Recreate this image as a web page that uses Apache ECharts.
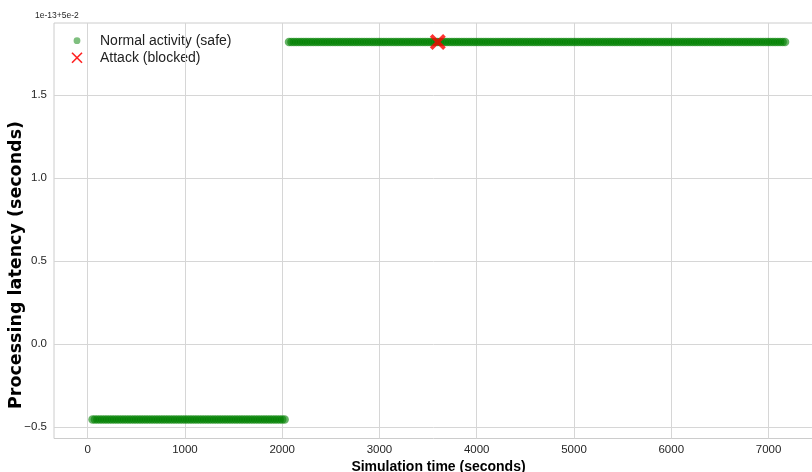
<!DOCTYPE html>
<html>
<head>
<meta charset="utf-8">
<script src="https://cdn.jsdelivr.net/npm/echarts@6/dist/echarts.min.js"></script>
<style>
html,body{margin:0;padding:0;background:#fff;}
#c{width:812px;height:472px;}
</style>
</head>
<body>
<div id="c"></div>
<script>
// ---- data ----
const normalLowTimes = [50,75,100,125,150,175,200,225,250,275,300,325,350,375,400,425,450,475,500,525,550,575,600,625,650,675,700,725,750,775,800,825,850,875,900,925,950,975,1000,1025,1050,1075,1100,1125,1150,1175,1200,1225,1250,1275,1300,1325,1350,1375,1400,1425,1450,1475,1500,1525,1550,1575,1600,1625,1650,1675,1700,1725,1750,1775,1800,1825,1850,1875,1900,1925,1950,1975,2000,2025];
const normalLowLatency = -0.455;
const normalHighTimes = [2070,2095,2120,2145,2170,2195,2220,2245,2270,2295,2320,2345,2370,2395,2420,2445,2470,2495,2520,2545,2570,2595,2620,2645,2670,2695,2720,2745,2770,2795,2820,2845,2870,2895,2920,2945,2970,2995,3020,3045,3070,3095,3120,3145,3170,3195,3220,3245,3270,3295,3320,3345,3370,3395,3420,3445,3470,3495,3520,3545,3570,3595,3620,3645,3670,3695,3720,3745,3770,3795,3820,3845,3870,3895,3920,3945,3970,3995,4020,4045,4070,4095,4120,4145,4170,4195,4220,4245,4270,4295,4320,4345,4370,4395,4420,4445,4470,4495,4520,4545,4570,4595,4620,4645,4670,4695,4720,4745,4770,4795,4820,4845,4870,4895,4920,4945,4970,4995,5020,5045,5070,5095,5120,5145,5170,5195,5220,5245,5270,5295,5320,5345,5370,5395,5420,5445,5470,5495,5520,5545,5570,5595,5620,5645,5670,5695,5720,5745,5770,5795,5820,5845,5870,5895,5920,5945,5970,5995,6020,6045,6070,6095,6120,6145,6170,6195,6220,6245,6270,6295,6320,6345,6370,6395,6420,6445,6470,6495,6520,6545,6570,6595,6620,6645,6670,6695,6720,6745,6770,6795,6820,6845,6870,6895,6920,6945,6970,6995,7020,7045,7070,7095,7120,7145,7170];
const normalHighLatency = 1.82;
const attackTimes = [3600];
const attackLatency = [1.82];
const xTicks = [0,1000,2000,3000,4000,5000,6000,7000];
const yTicks = [-0.5,0.0,0.5,1.0,1.5];
const offsetText = '1e-13+5e-2';
const legendNames = ['Normal activity (safe)', 'Attack (blocked)'];
const xTitle = 'Simulation time (seconds)';
const yTitle = 'Processing latency (seconds)';

const normalData = normalLowTimes.map(t => [t, normalLowLatency])
  .concat(normalHighTimes.map(t => [t, normalHighLatency]));
const attackData = attackTimes.map((t, i) => [t, attackLatency[i]]);

const XPATH = 'path://M0,1.7 L1.7,0 L5,3.3 L8.3,0 L10,1.7 L6.7,5 L10,8.3 L8.3,10 L5,6.7 L1.7,10 L0,8.3 L3.3,5 Z';

const chart = echarts.init(document.getElementById('c'), null, {renderer: 'canvas'});
const tickFont = {fontFamily: '"Liberation Sans",Arial,sans-serif', fontSize: 11.5, color: '#262626'};

chart.setOption({
  animation: false,
  backgroundColor: '#ffffff',
  grid: {left: 54, top: 23, right: -11, bottom: 33.5, show: true, borderColor: '#cccccc', borderWidth: 1, containLabel: false, outerBoundsMode: 'none'},
  xAxis: {
    type: 'value', min: -346, max: 7560,
    axisLine: {show: false},
    axisTick: {show: false, customValues: xTicks},
    axisLabel: Object.assign({customValues: xTicks, margin: 5, formatter: v => String(v)}, tickFont),
    splitLine: {show: true, lineStyle: {color: '#d6d6d6', width: 1}},
    name: xTitle, nameLocation: 'middle', nameGap: 15,
    nameTextStyle: {fontFamily: '"Liberation Sans",Arial,sans-serif', fontWeight: 'bold', fontSize: 14, color: '#000'}
  },
  yAxis: {
    type: 'value', min: -0.569, max: 1.934,
    axisLine: {show: false},
    axisTick: {show: false, customValues: yTicks},
    axisLabel: Object.assign({customValues: yTicks, margin: 7, formatter: v => v.toFixed(1).replace('-', '\u2212')}, tickFont),
    splitLine: {show: true, lineStyle: {color: '#d6d6d6', width: 1}}
  },
  series: [
    {
      name: legendNames[0], type: 'scatter', data: normalData,
      symbol: 'circle', symbolSize: 8.5,
      itemStyle: {color: 'rgba(0,128,0,0.75)'}
    },
    {
      name: legendNames[1], type: 'scatter', data: attackData,
      symbol: XPATH, symbolSize: 16, z: 5,
      itemStyle: {color: '#ff0000'}
    }
  ],
  graphic: [
    {type: 'text', x: 35, y: 20.5, style: {text: offsetText, font: '8.5px "Liberation Sans",Arial,sans-serif', fill: '#262626', verticalAlign: 'bottom'}},
    {type: 'text', x: 16, y: 265, rotation: Math.PI / 2, style: {text: yTitle, font: 'bold 17.5px "DejaVu Sans",sans-serif', fill: '#000', align: 'center', verticalAlign: 'middle'}},
    {type: 'circle', shape: {cx: 77, cy: 40.7, r: 3.4}, style: {fill: 'rgba(0,128,0,0.5)'}},
    {type: 'line', shape: {x1: 72, y1: 52.7, x2: 82, y2: 62.7}, style: {stroke: '#ff2020', lineWidth: 1.6}},
    {type: 'line', shape: {x1: 82, y1: 52.7, x2: 72, y2: 62.7}, style: {stroke: '#ff2020', lineWidth: 1.6}},
    {type: 'text', x: 100, y: 40.7, style: {text: legendNames[0], font: '14px "Liberation Sans",Arial,sans-serif', fill: '#222', verticalAlign: 'middle'}},
    {type: 'text', x: 100, y: 57.7, style: {text: legendNames[1], font: '14px "Liberation Sans",Arial,sans-serif', fill: '#222', verticalAlign: 'middle'}}
  ]
});
</script>
</body>
</html>
